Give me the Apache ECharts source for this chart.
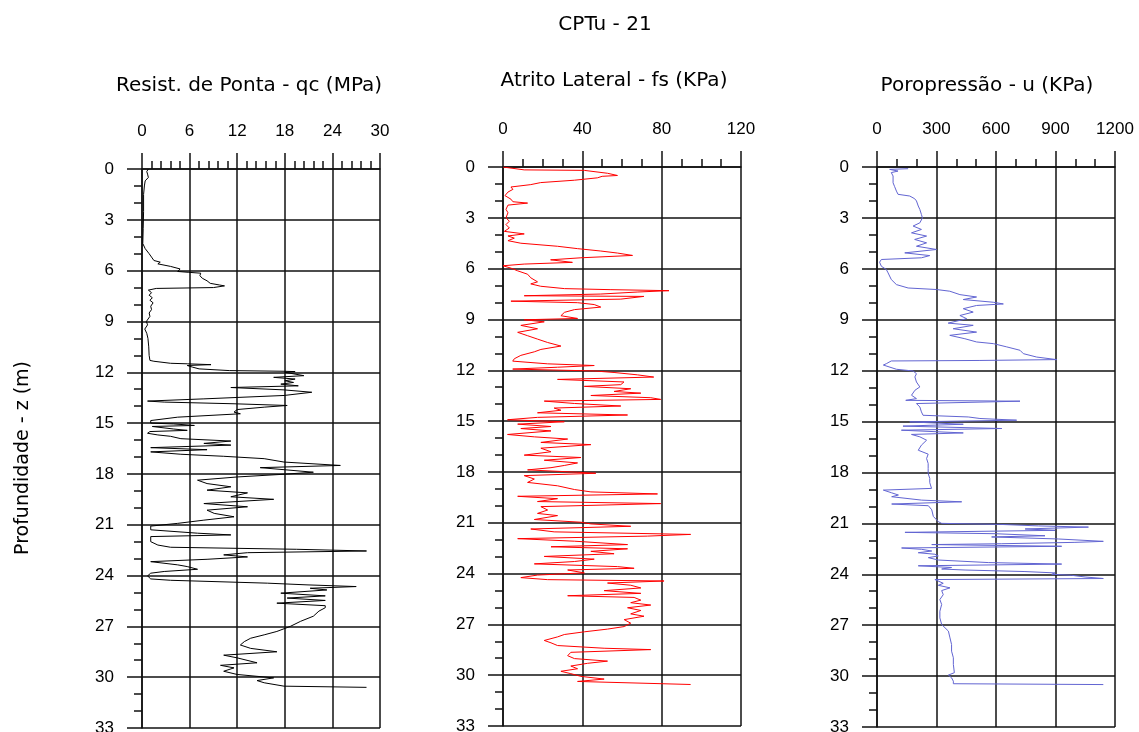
<!DOCTYPE html>
<html>
<head>
<meta charset="utf-8">
<title>CPTu - 21</title>
<script src="https://cdn.jsdelivr.net/npm/echarts@6/dist/echarts.min.js"></script>
<style>
  html, body { margin: 0; padding: 0; background: #fff; }
  #chart { width: 1139px; height: 732px; }
</style>
</head>
<body>
<div id="chart"></div>
<script>
// Sounding CPTu-21: tip resistance, sleeve friction and pore pressure vs depth

// Depth ticks (m)
const depthTicks = [0, 3, 6, 9, 12, 15, 18, 21, 24, 27, 30, 33];

// Tip resistance qc (MPa)
const qcDepth = [0.0,0.05,0.15,0.3,0.5,0.7,1.0,1.5,2.5,3.5,4.4,4.7,5.0,5.2,5.4,5.5,5.6,5.75,5.9,6.05,6.1,6.15,6.3,6.45,6.6,6.75,6.85,6.9,7.0,7.05,7.15,7.3,7.45,7.6,7.75,7.9,8.1,8.3,8.5,8.7,9.0,9.2,9.45,9.7,10.0,10.5,11.0,11.3,11.35,11.47,11.5,11.55,11.6,11.7,11.8,11.9,11.94,11.96,12.0,12.06,12.2,12.3,12.4,12.5,12.6,12.7,12.8,12.9,13.04,13.18,13.37,13.57,13.7,13.76,13.86,13.96,14.06,14.2,14.35,14.45,14.65,14.85,15.0,15.05,15.14,15.2,15.27,15.35,15.43,15.5,15.6,15.7,15.78,15.92,16.06,16.2,16.3,16.45,16.57,16.7,16.84,16.96,17.1,17.3,17.5,17.63,17.75,17.9,18.02,18.18,18.37,18.57,18.76,18.96,19.12,19.35,19.5,19.75,19.94,20.14,20.33,20.53,20.73,20.92,21.08,21.3,21.5,21.6,21.7,22.0,22.2,22.33,22.45,22.55,22.65,22.78,22.9,23.04,23.18,23.37,23.47,23.63,23.76,23.86,24.02,24.2,24.28,24.45,24.55,24.65,24.75,24.85,25.04,25.2,25.33,25.47,25.63,25.78,25.9,26.1,26.4,26.7,27.0,27.3,27.5,27.7,27.9,28.1,28.3,28.5,28.7,28.86,29.15,29.3,29.45,29.65,29.84,30.04,30.2,30.33,30.53,30.6];
const qcValue = [0.8,0.9,0.6,0.7,0.8,0.4,0.3,0.2,0.2,0.15,0.1,0.4,0.9,1.2,1.5,2.3,2.0,3.6,4.8,4.5,5.9,7.4,7.3,7.6,8.2,8.6,9.8,10.4,9.0,1.8,0.8,1.2,0.9,1.3,1.0,1.4,1.1,1.2,0.9,1.0,0.55,0.7,0.35,0.6,0.75,0.85,0.9,1.0,1.5,3.6,5.7,8.7,5.7,6.4,7.2,11.0,17.9,19.3,18.0,17.9,20.4,16.6,19.3,18.0,19.1,17.5,19.7,11.2,17.9,21.4,17.9,7.8,0.7,2.8,11.6,18.3,15.4,12.0,11.6,12.4,4.5,1.1,1.1,4.0,6.6,1.3,1.1,4.0,5.7,1.0,0.7,2.0,3.6,4.9,11.2,7.8,11.2,1.1,8.2,1.1,4.9,10.3,15.4,17.9,25.0,14.9,17.9,21.6,17.9,12.0,7.0,8.2,11.2,8.2,13.3,11.2,16.6,7.8,13.3,8.2,9.1,11.6,7.8,4.5,1.1,1.1,7.0,11.2,1.1,1.1,2.0,3.6,19.5,28.3,13.3,10.3,13.3,8.2,1.1,4.5,5.7,7.0,2.8,1.1,0.7,1.1,3.6,15.8,20.8,27.0,21.2,23.3,17.5,23.1,18.3,23.1,17.0,23.1,23.1,22.3,21.6,20.0,18.7,17.0,15.4,13.7,12.9,12.4,13.7,17.0,10.3,12.0,14.5,9.9,11.6,10.3,12.0,16.6,14.5,15.4,17.9,28.3];

// Sleeve friction fs (kPa)
const fsDepth = [0.0,0.1,0.17,0.2,0.27,0.37,0.5,0.55,0.64,0.78,0.92,1.04,1.18,1.32,1.48,1.69,1.9,2.05,2.13,2.25,2.5,2.7,3.0,3.2,3.4,3.6,3.8,3.95,4.07,4.2,4.35,4.5,4.68,4.82,4.96,5.08,5.22,5.36,5.48,5.63,5.73,5.83,5.97,6.13,6.33,6.54,6.78,6.9,7.04,7.18,7.24,7.3,7.38,7.5,7.6,7.64,7.8,7.92,8.01,8.12,8.27,8.42,8.58,8.78,8.94,9.02,9.14,9.35,9.55,9.76,9.96,10.16,10.36,10.57,10.77,10.91,11.12,11.32,11.46,11.62,11.72,11.82,11.93,12.04,12.13,12.27,12.4,12.54,12.69,12.85,12.95,13.09,13.25,13.35,13.49,13.62,13.72,13.82,13.96,14.11,14.23,14.36,14.51,14.64,14.78,14.92,15.04,15.18,15.32,15.44,15.58,15.79,15.93,16.06,16.26,16.39,16.6,16.81,17.01,17.15,17.31,17.47,17.62,17.75,17.88,18.02,18.08,18.22,18.42,18.62,18.82,19.04,19.18,19.3,19.44,19.58,19.75,19.87,20.05,20.25,20.45,20.58,20.81,20.97,21.07,21.21,21.37,21.54,21.69,21.79,21.94,22.09,22.29,22.42,22.54,22.69,22.83,22.99,23.15,23.29,23.43,23.59,23.69,23.79,23.96,24.09,24.24,24.36,24.44,24.56,24.69,24.85,25.01,25.17,25.31,25.41,25.57,25.72,25.86,26.02,26.18,26.38,26.52,26.72,26.93,27.13,27.28,27.44,27.6,27.74,27.95,28.09,28.25,28.41,28.49,28.65,28.85,29.02,29.17,29.3,29.46,29.62,29.77,29.91,30.07,30.23,30.37,30.55];
const fsValue = [0,0,10.7,41,42,52.7,57.7,50,47.6,36,19,14,4,5,2.5,1,4,5,12.4,2.5,1.5,2.5,1.5,3.2,1.5,3.2,0.7,10.7,2.5,5.7,2.5,9,27.5,37.6,49.3,57.7,65.3,39.3,24,35,10.7,0,4,7.4,12.4,14,17.4,14,19,31,54,83.7,68,49.3,10.7,71,59.4,4,37.6,46,49.3,36,31,29.2,37.6,10.7,20.8,9,17.4,7.4,12.4,17.4,22.5,29.2,19.1,15.8,9,5.7,4.9,22.5,46,27.5,4.9,46,56,67.8,76,27.5,61,59.4,41,64.4,56,69.5,44.3,74.5,79.5,20.8,36,59.4,25.8,29.2,17.4,62.8,17.4,2.3,30.9,7.4,24.2,9,24.2,2.3,15.8,32.6,19.1,44.3,19.1,24.2,10.7,39.3,20.8,37.6,30.9,24.2,12.4,37.6,46.8,10.7,15.8,12.4,27.5,36,44.3,77.9,7.4,27.5,17.4,79.5,19.1,22.5,17.4,27.5,15.8,39.3,44.3,64.4,14,25.8,94.6,72.8,7.4,36,62.8,24.2,62.8,44.3,56,20.8,46,36,15.8,57.7,66.1,32.6,41,17.4,9,22.5,81.2,52.7,64.4,69.5,51,69.5,32.6,66.1,69.5,64.4,74.5,62.8,69.5,64.4,71.1,61.1,64.4,61.1,52.7,41,30.9,27.5,20.8,24.2,27.5,51,74.5,34.2,32.6,36,52.7,42.6,34.2,37.6,29.2,34.2,39.3,51,37.6,94.6];

// Pore pressure u (kPa)
const uDepth = [0.1,0.14,0.24,0.33,0.53,0.93,1.16,1.42,1.61,1.71,1.87,2.0,2.3,2.5,2.8,3.0,3.29,3.48,3.68,3.88,4.07,4.27,4.47,4.67,4.86,5.06,5.22,5.35,5.45,5.61,5.85,6.04,6.24,6.63,6.93,7.13,7.22,7.32,7.52,7.66,7.81,7.97,8.07,8.16,8.35,8.55,8.75,8.94,9.2,9.33,9.53,9.73,9.92,10.12,10.31,10.41,10.6,10.8,11.0,11.2,11.35,11.4,11.43,11.59,11.67,11.78,11.92,12.02,12.18,12.37,12.67,12.96,13.16,13.45,13.65,13.75,13.8,13.94,14.14,14.43,14.63,14.73,14.82,14.92,15.02,15.16,15.27,15.41,15.51,15.67,15.76,15.9,16.1,16.39,16.69,16.92,17.18,17.47,17.76,18.06,18.35,18.6,18.94,19.04,19.2,19.33,19.43,19.63,19.73,19.86,19.96,20.2,20.59,20.9,21.0,21.06,21.15,21.22,21.33,21.41,21.53,21.61,21.73,21.8,21.92,22.06,22.12,22.2,22.25,22.35,22.45,22.53,22.63,22.73,22.82,22.92,23.02,23.16,23.31,23.4,23.5,23.6,23.69,23.75,23.84,23.92,24.0,24.06,24.16,24.25,24.31,24.4,24.53,24.65,24.8,24.96,25.2,25.49,25.78,26.18,26.57,26.96,27.35,27.75,28.14,28.53,28.92,29.31,29.8,29.94,30.1,30.3,30.45,30.5];
const uValue = [157,64,106,72,81,81,89,98,106,165,190,199,208,216,224,229,216,182,224,174,250,190,250,199,300,140,266,224,22,13,22,47,56,72,98,157,300,367,418,502,435,586,637,502,435,485,418,452,359,485,384,502,367,443,502,587,654,721,738,805,906,519,72,47,32,30,98,182,199,191,199,216,191,174,199,145,721,199,216,224,232,460,519,704,165,435,131,629,123,435,174,216,250,224,208,258,250,258,258,258,266,266,275,32,74,108,74,225,427,74,259,276,284,309,326,620,814,1066,747,898,141,595,847,578,914,1141,998,629,276,931,124,225,276,208,292,309,259,309,561,931,208,376,326,444,746,898,881,982,1049,1141,292,284,334,309,368,326,334,317,326,317,317,326,360,368,376,376,385,385,390,360,376,385,385,1141];

// Horizontal axis settings per panel
const panelTitles = ['Resist. de Ponta - qc (MPa)', 'Atrito Lateral - fs (KPa)', 'Poropressão - u (KPa)'];
const panelMax = [30, 120, 1200];
const panelInterval = [6, 40, 300];
const panelMinorSplit = [5, 4, 3];
const panelColors = ['#000000', '#ff0000', '#6265d2'];

const FONT = '"Liberation Sans", Arial, sans-serif';
const TITLE_FONT = '"DejaVu Sans", Verdana, sans-serif';
const ink = '#111';

const grids = [
  { left: 142, top: 169, width: 238, height: 559, containLabel: false, outerBoundsMode: 'none' },
  { left: 503, top: 167, width: 238, height: 559, containLabel: false, outerBoundsMode: 'none' },
  { left: 877, top: 167, width: 238, height: 560, containLabel: false, outerBoundsMode: 'none' }
];

function pairs(depths, values) {
  return depths.map((d, i) => [values[i], d]);
}
const seriesData = [pairs(qcDepth, qcValue), pairs(fsDepth, fsValue), pairs(uDepth, uValue)];

const xAxes = grids.map((g, i) => ({
  type: 'value',
  gridIndex: i,
  position: 'top',
  min: 0,
  max: panelMax[i],
  interval: panelInterval[i],
  axisLine: { show: true, onZero: false, lineStyle: { color: ink, width: 1.5 } },
  axisTick: { show: true, length: 16, lineStyle: { color: ink, width: 1.5 } },
  minorTick: { show: true, splitNumber: panelMinorSplit[i], length: 8, lineStyle: { color: ink, width: 1.5 } },
  splitLine: { show: true, lineStyle: { color: ink, width: 1.5 } },
  axisLabel: { margin: 29, fontSize: 17, color: '#000', fontFamily: FONT, formatter: v => String(v) }
}));

const yAxes = grids.map((g, i) => ({
  type: 'value',
  gridIndex: i,
  inverse: true,
  min: 0,
  max: 33,
  interval: 3,
  axisLine: { show: true, onZero: false, lineStyle: { color: ink, width: 1.5 } },
  axisTick: { show: true, length: 15, lineStyle: { color: ink, width: 1.5 } },
  minorTick: { show: true, splitNumber: 3, length: 8, lineStyle: { color: ink, width: 1.5 } },
  splitLine: { show: true, lineStyle: { color: ink, width: 1.5 } },
  axisLabel: {
    margin: 28, fontSize: 17, color: '#000', fontFamily: FONT,
    formatter: v => (depthTicks.indexOf(v) >= 0 ? String(v) : '')
  }
}));

const series = seriesData.map((data, i) => ({
  type: 'line',
  xAxisIndex: i,
  yAxisIndex: i,
  data: data,
  showSymbol: false,
  symbol: 'none',
  lineStyle: { color: panelColors[i], width: 1 },
  clip: true,
  z: 3
}));

const titleCenters = [249, 614, 987];
const titleY = [86, 81, 86];

const graphics = [
  {
    type: 'text', x: 605, y: 25,
    style: { text: 'CPTu - 21', align: 'center', verticalAlign: 'middle', font: '20px ' + TITLE_FONT, fill: '#000' }
  },
  {
    type: 'text', x: 23, y: 458, rotation: Math.PI / 2,
    style: { text: 'Profundidade - z (m)', align: 'center', verticalAlign: 'middle', font: '19px ' + TITLE_FONT, fill: '#000' }
  }
].concat(panelTitles.map((t, i) => ({
  type: 'text', x: titleCenters[i], y: titleY[i],
  style: { text: t, align: 'center', verticalAlign: 'middle', font: '20px ' + TITLE_FONT, fill: '#000' }
})));

const chart = echarts.init(document.getElementById('chart'), null, { renderer: 'canvas' });
chart.setOption({
  animation: false,
  backgroundColor: '#fff',
  grid: grids,
  xAxis: xAxes,
  yAxis: yAxes,
  series: series,
  graphic: graphics
});
</script>
</body>
</html>
